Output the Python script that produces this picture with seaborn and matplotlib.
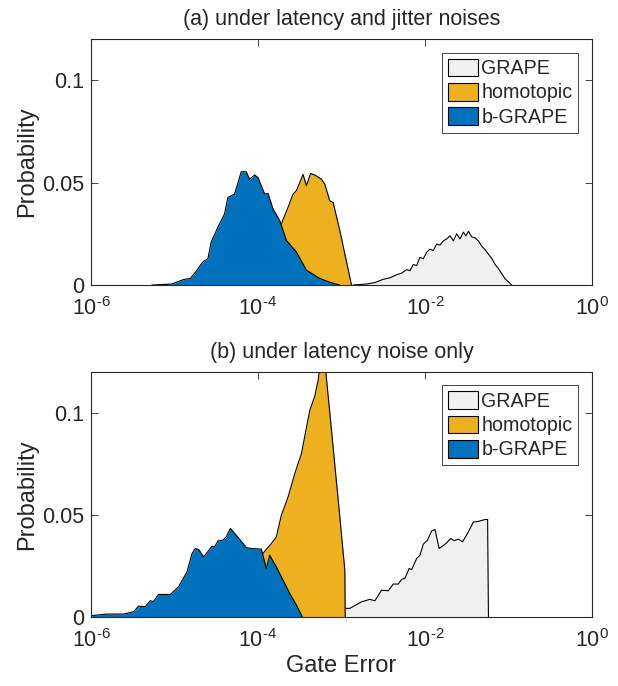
import numpy as np
import pandas as pd
import seaborn as sns
import matplotlib.pyplot as plt
from matplotlib.patches import Patch

# x values are log10(gate error)
# (a) under latency and jitter noises
a_grape_logx = [-2.86, -2.70, -2.60, -2.50, -2.42, -2.34, -2.28, -2.22, -2.18, -2.14,
                -2.10, -2.06, -2.02, -1.98, -1.94, -1.90, -1.86, -1.82, -1.78, -1.74,
                -1.70, -1.66, -1.62, -1.58, -1.54, -1.51, -1.48, -1.44, -1.40, -1.36,
                -1.32, -1.28, -1.24, -1.20, -1.16, -1.12, -1.08, -1.04, -1.00, -0.96]
a_grape_p = [0, 0.0005, 0.0012, 0.0028, 0.0035, 0.0050, 0.0058, 0.0075, 0.0070, 0.0100,
             0.0095, 0.0135, 0.0128, 0.0160, 0.0175, 0.0168, 0.0200, 0.0195, 0.0215, 0.0225,
             0.0240, 0.0215, 0.0250, 0.0225, 0.0258, 0.0240, 0.0262, 0.0235, 0.0230, 0.0215,
             0.0190, 0.0172, 0.0150, 0.0130, 0.0100, 0.0080, 0.0055, 0.0030, 0.0015, 0]

a_homo_logx = [-4.30, -4.10, -3.90, -3.80, -3.72, -3.64, -3.58, -3.54, -3.46, -3.42,
               -3.37, -3.32, -3.24, -3.20, -3.14, -3.10, -3.02, -2.88]
a_homo_p = [0, 0.006, 0.016, 0.024, 0.0298, 0.0379, 0.0444, 0.0460, 0.0540, 0.0484,
            0.0544, 0.0537, 0.0516, 0.0492, 0.0411, 0.0403, 0.0266, 0]

a_bgrape_logx = [-5.27, -5.03, -4.89, -4.81, -4.73, -4.66, -4.60, -4.56, -4.48, -4.40,
                 -4.36, -4.28, -4.20, -4.14, -4.10, -4.04, -4.00, -3.92, -3.88, -3.82,
                 -3.74, -3.66, -3.54, -3.42, -3.26, -3.12, -3.02]
a_bgrape_p = [0, 0.0005, 0.0027, 0.0032, 0.0073, 0.0113, 0.0129, 0.0210, 0.0282, 0.0347,
              0.0428, 0.0444, 0.0553, 0.0552, 0.0516, 0.0537, 0.0524, 0.0444, 0.0447, 0.0371,
              0.0315, 0.0218, 0.0161, 0.0073, 0.0032, 0.0011, 0]

# (b) under latency noise only
b_grape_logx = [-3.00, -2.96, -2.90, -2.76, -2.66, -2.60, -2.52, -2.44, -2.38, -2.32,
                -2.28, -2.24, -2.19, -2.16, -2.10, -2.06, -2.02, -1.97, -1.92, -1.88,
                -1.83, -1.76, -1.69, -1.65, -1.60, -1.55, -1.49, -1.42, -1.36, -1.28,
                -1.25, -1.24]
b_grape_p = [0.003, 0.0041, 0.0041, 0.0073, 0.0085, 0.0078, 0.0130, 0.0127, 0.0160, 0.0160,
             0.0183, 0.0188, 0.0236, 0.0231, 0.0285, 0.0301, 0.0355, 0.0375, 0.0420, 0.0427,
             0.0334, 0.0355, 0.0383, 0.0372, 0.0380, 0.0367, 0.0408, 0.0464, 0.0467, 0.0476,
             0.0476, 0]

b_homo_logx = [-4.40, -4.20, -4.00, -3.94, -3.90, -3.84, -3.78, -3.72, -3.64, -3.56,
               -3.48, -3.38, -3.32, -3.28, -3.22, -3.19, -3.10, -3.02, -2.96, -2.955]
b_homo_p = [0, 0.008, 0.025, 0.031, 0.033, 0.0358, 0.0391, 0.0497, 0.0586, 0.0700,
            0.0798, 0.101, 0.108, 0.1156, 0.134, 0.121, 0.083, 0.049, 0.0228, 0]

b_bgrape_logx = [-6.00, -5.81, -5.61, -5.49, -5.43, -5.35, -5.29, -5.25, -5.19, -5.05,
                 -4.95, -4.85, -4.79, -4.75, -4.71, -4.65, -4.55, -4.52, -4.48, -4.42,
                 -4.38, -4.33, -4.26, -4.14, -4.08, -3.96, -3.90, -3.86, -3.78, -3.70,
                 -3.62, -3.54, -3.47]
b_bgrape_p = [0.0005, 0.0013, 0.0013, 0.0024, 0.0052, 0.0049, 0.0078, 0.0075, 0.0109, 0.0109,
              0.0147, 0.0220, 0.0309, 0.0334, 0.0329, 0.0293, 0.0345, 0.0342, 0.0371, 0.0375,
              0.0391, 0.0432, 0.0399, 0.0339, 0.0334, 0.0331, 0.0236, 0.0301, 0.0244, 0.0179,
              0.0114, 0.0057, 0]

methods = ['GRAPE', 'homotopic', 'b-GRAPE']
colors = {'GRAPE': '#f0f0f0', 'homotopic': '#EDB120', 'b-GRAPE': '#0072BD'}
titles = ['(a) under latency and jitter noises', '(b) under latency noise only']
xtick_vals = [1e-6, 1e-4, 1e-2, 1e0]
# hyphen (U+2010) instead of the long mathtext minus, like the original
xtick_labels = ['$10^{\u20106}$', '$10^{\u20104}$', '$10^{\u20102}$', '$10^{0}$']
ytick_vals = [0, 0.05, 0.1]
ytick_labels = ['0', '0.05', '0.1']


def make_df(parts):
    frames = []
    for name, logx, p in parts:
        frames.append(pd.DataFrame({'err': np.power(10.0, logx), 'prob': p, 'method': name}))
    return pd.concat(frames, ignore_index=True)


df_a = make_df([('GRAPE', a_grape_logx, a_grape_p),
                ('homotopic', a_homo_logx, a_homo_p),
                ('b-GRAPE', a_bgrape_logx, a_bgrape_p)])
df_b = make_df([('GRAPE', b_grape_logx, b_grape_p),
                ('homotopic', b_homo_logx, b_homo_p),
                ('b-GRAPE', b_bgrape_logx, b_bgrape_p)])

sns.set_style("ticks")
plt.rcParams['font.family'] = ['Liberation Sans', 'DejaVu Sans']
plt.rcParams['mathtext.fontset'] = 'custom'
plt.rcParams['mathtext.rm'] = 'Liberation Sans'
plt.rcParams['mathtext.sf'] = 'Liberation Sans'
plt.rcParams['mathtext.it'] = 'Liberation Sans:italic'

fig = plt.figure(figsize=(6.18, 6.86), dpi=100)
ax_a = fig.add_axes([0.1472, 0.5845, 0.8107, 0.3586])
ax_b = fig.add_axes([0.1472, 0.1010, 0.8107, 0.3572])

for ax, df, title in [(ax_a, df_a, titles[0]), (ax_b, df_b, titles[1])]:
    ax.set_xscale('log')
    for i, m in enumerate(methods):
        sub = df[df['method'] == m]
        ax.fill_between(sub['err'], sub['prob'], 0, color=colors[m], lw=0, zorder=2 + i)
        sns.lineplot(data=sub, x='err', y='prob', color='black', lw=0.8,
                     estimator=None, sort=False, ax=ax, zorder=2.5 + i)
    ax.set_xlim(1e-6, 1)
    ax.set_ylim(0, 0.12)
    ax.set_xticks(xtick_vals)
    ax.set_xticklabels(xtick_labels)
    ax.xaxis.set_minor_locator(plt.NullLocator())
    ax.set_yticks(ytick_vals)
    ax.set_yticklabels(ytick_labels)
    ax.tick_params(direction='in', top=True, right=True, length=5, width=0.6,
                   labelsize=15.5, color='#262626', pad=5)
    ax.tick_params(axis='x', pad=9)
    for s in ax.spines.values():
        s.set_linewidth(0.8)
        s.set_color('#262626')
        s.set_zorder(10)
    ax.set_ylabel('Probability', fontsize=17, labelpad=3)
    ax.set_xlabel('')
    ax.set_title(title, fontsize=15.5, pad=10)
    handles = [Patch(facecolor=colors[m], edgecolor='black', lw=0.8) for m in methods]
    leg = ax.legend(handles, methods, loc='upper right', fontsize=14.1, frameon=True,
                    fancybox=False, framealpha=1, edgecolor='#262626',
                    borderpad=0.3, handlelength=1.55, handleheight=1.0,
                    handletextpad=0.15, labelspacing=0.25, borderaxespad=0.7)
    leg.get_frame().set_linewidth(0.6)
    leg.set_zorder(20)

ax_b.set_xlabel('Gate Error', fontsize=17, labelpad=2)

plt.savefig('out.png', dpi=100)
plt.close()
